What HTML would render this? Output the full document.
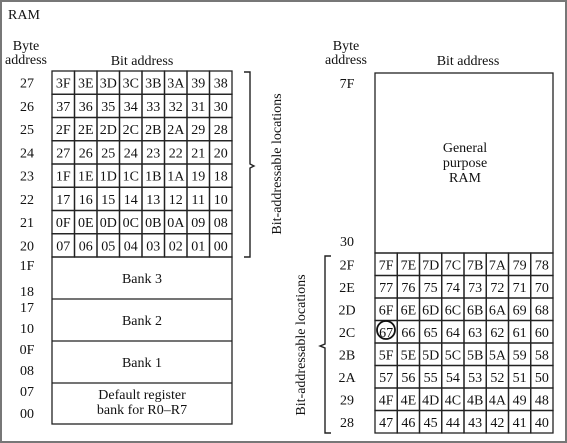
<!DOCTYPE html>
<html><head><meta charset="utf-8"><style>
html,body{margin:0;padding:0;background:#fff}
svg{display:block}
text{font-family:"Liberation Serif",serif;fill:#111}
</style></head><body>
<svg id="s" width="567" height="443" viewBox="0 0 567 443">
<rect x="1" y="1" width="565" height="441" fill="#fff" stroke="#777" stroke-width="2"/>
<text x="8" y="19" font-size="14">RAM</text>
<text x="26" y="50" font-size="14" text-anchor="middle"><tspan x="26">Byte</tspan><tspan x="26" dy="14">address</tspan></text>
<text x="142" y="65" font-size="14" text-anchor="middle">Bit address</text>
<text x="346" y="50" font-size="14" text-anchor="middle"><tspan x="346">Byte</tspan><tspan x="346" dy="14">address</tspan></text>
<text x="468" y="65" font-size="14" text-anchor="middle">Bit address</text>
<g id="L"></g><g id="R"></g>
<rect x="52" y="257" width="180" height="167" fill="none" stroke="#222" stroke-width="1.3"/>
<line x1="52" y1="299" x2="232" y2="299" stroke="#222" stroke-width="1.3"/>
<line x1="52" y1="341" x2="232" y2="341" stroke="#222" stroke-width="1.3"/>
<line x1="52" y1="383" x2="232" y2="383" stroke="#222" stroke-width="1.3"/>
<text x="142" y="283" font-size="14" text-anchor="middle">Bank 3</text>
<text x="142" y="325" font-size="14" text-anchor="middle">Bank 2</text>
<text x="142" y="367" font-size="14" text-anchor="middle">Bank 1</text>
<text x="142" y="399" font-size="14" text-anchor="middle"><tspan x="142">Default register</tspan><tspan x="142" dy="15">bank for R0–R7</tspan></text>
<g font-size="14" text-anchor="middle">
<text x="27" y="270">1F</text><text x="27" y="296">18</text>
<text x="27" y="312">17</text><text x="27" y="333">10</text>
<text x="27" y="354">0F</text><text x="27" y="375">08</text>
<text x="27" y="396">07</text><text x="27" y="418">00</text>
</g>
<path d="M244 72 H250 V164 L254 166 L250 168 V257 H244" fill="none" stroke="#222" stroke-width="1.4"/>
<text transform="translate(281,164) rotate(-90)" font-size="14" text-anchor="middle">Bit-addressable locations</text>
<rect x="375" y="73" width="178" height="180" fill="none" stroke="#222" stroke-width="1.3"/>
<text x="465" y="152" font-size="14" text-anchor="middle"><tspan x="465">General</tspan><tspan x="465" dy="15">purpose</tspan><tspan x="465" dy="15">RAM</tspan></text>
<text x="347" y="88" font-size="14" text-anchor="middle">7F</text>
<text x="347" y="246" font-size="14" text-anchor="middle">30</text>
<path d="M331 256 H325 V344 L320 346 L325 348 V433 H331" fill="none" stroke="#222" stroke-width="1.4"/>
<text transform="translate(305,345) rotate(-90)" font-size="14" text-anchor="middle">Bit-addressable locations</text>
<circle cx="386" cy="330" r="9" fill="none" stroke="#111" stroke-width="1.8"/>
</svg>
<script>
const leftBytes=["27","26","25","24","23","22","21","20"];
const rightBytes=["2F","2E","2D","2C","2B","2A","29","28"];
const NS="http://www.w3.org/2000/svg";
function hex(n){return n.toString(16).toUpperCase().padStart(2,"0");}
function grid(g,bytes,x0,y0,cw,rh,lx,startBit){
  for(let r=0;r<bytes.length;r++){
    const y=y0+r*rh;
    const t=document.createElementNS(NS,"text");
    t.setAttribute("x",lx);t.setAttribute("y",y+rh/2+5);t.setAttribute("font-size","14");t.setAttribute("text-anchor","middle");
    t.textContent=bytes[r];
    
    
    g.appendChild(t);
    const base=startBit-r*8;
    for(let c=0;c<8;c++){
      const x=x0+c*cw;
      const rc=document.createElementNS(NS,"rect");
      rc.setAttribute("x",x);rc.setAttribute("y",y);rc.setAttribute("width",cw);rc.setAttribute("height",rh);
      rc.setAttribute("fill","none");rc.setAttribute("stroke","#222");rc.setAttribute("stroke-width","1.3");
      
      
      g.appendChild(rc);
      const tt=document.createElementNS(NS,"text");
      tt.setAttribute("x",x+cw/2);tt.setAttribute("y",y+rh/2+5);tt.setAttribute("font-size","14");tt.setAttribute("text-anchor","middle");
      tt.textContent=hex(base-c);
      
      
      g.appendChild(tt);
    }
  }
}
grid(document.getElementById("L"),leftBytes,52,71,22.5,23.25,27,0x3F);
grid(document.getElementById("R"),rightBytes,375,253,22.25,22.5,347,0x7F);
</script>
</body></html>
